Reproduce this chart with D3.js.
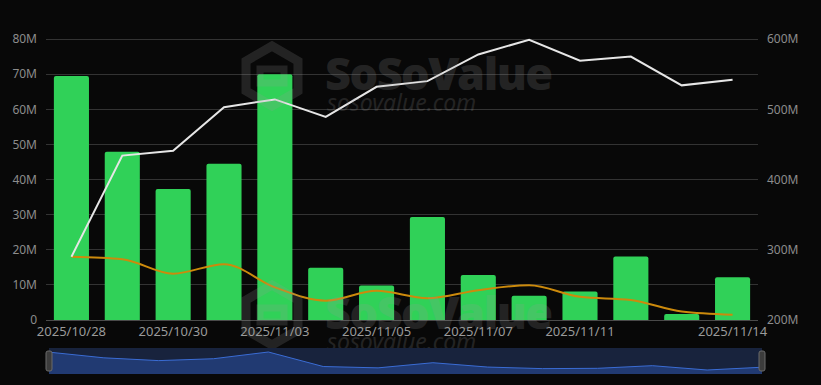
<!DOCTYPE html>
<html><head><meta charset="utf-8">
<script src="https://cdn.jsdelivr.net/npm/d3@7"></script>
<style>
html,body{margin:0;padding:0;background:#080808;}
svg{display:block;}
text{font-family:"Noto Sans","Open Sans",sans-serif;}
</style></head>
<body>
<svg id="c" width="821" height="385"></svg>
<script>
const categories = ["2025/10/28","2025/10/29","2025/10/30","2025/10/31","2025/11/03","2025/11/04","2025/11/05","2025/11/06","2025/11/07","2025/11/10","2025/11/11","2025/11/12","2025/11/13","2025/11/14"];
const barValues = [69.5,47.9,37.3,44.5,70.0,14.9,9.8,29.3,12.8,6.9,8.1,18.1,1.7,12.2];
const whiteLine = [290,434,441,503,514,489,532,540,578,599,569,575,534,542];
const orangeLine = [18.0,17.3,13.2,15.9,9.3,5.5,8.3,6.2,8.5,9.9,6.6,5.7,2.4,1.5];
const shownLabels = ["2025/10/28","2025/10/30","2025/11/03","2025/11/05","2025/11/07","2025/11/11","2025/11/14"];
const leftTicks = [0,10,20,30,40,50,60,70,80];
const rightTicks = [200,300,400,500,600];

const svg = d3.select("#c");
svg.append("rect").attr("width",821).attr("height",385).attr("fill","#080808");

const x0 = 46, x1 = 758, yTop = 39, yBot = 320;
const x = d3.scaleBand().domain(categories).range([x0,x1]).paddingInner(0.31).paddingOuter(0.155);
const xc = d => x(d) + x.bandwidth()/2;
const yL = d3.scaleLinear().domain([0,80]).range([yBot,yTop]);
const yR = d3.scaleLinear().domain([200,600]).range([yBot,yTop]);

// grid
svg.append("g").selectAll("line").data(leftTicks).join("line")
  .attr("x1",x0).attr("x2",x1).attr("y1",d=>yL(d)).attr("y2",d=>yL(d))
  .attr("stroke",d=>d===0?"#4a4a4a":"#333").attr("stroke-width",1)
  .attr("shape-rendering","crispEdges");

// left axis
const gl = svg.append("g").attr("transform",`translate(37,0)`)
  .call(d3.axisLeft(yL).tickValues(leftTicks).tickSize(0).tickPadding(0).tickFormat(d=>d===0?"0":d+"M"));
gl.select(".domain").remove();
gl.selectAll("text").attr("fill","#8c8c8c").attr("font-size",12);

// right axis
const gr = svg.append("g").attr("transform",`translate(767,0)`)
  .call(d3.axisRight(yR).tickValues(rightTicks).tickSize(0).tickPadding(0).tickFormat(d=>d+"M"));
gr.select(".domain").remove();
gr.selectAll("text").attr("fill","#8c8c8c").attr("font-size",12);

// bottom axis
const gb = svg.append("g").attr("transform",`translate(0,${yBot+7})`)
  .call(d3.axisBottom(x).tickValues(shownLabels).tickSize(0).tickPadding(0));
gb.select(".domain").remove();
gb.selectAll("text").attr("fill","#9a9a9a").attr("font-size",13);

// bars
svg.append("g").selectAll("path").data(categories).join("path")
  .attr("fill","#30d158")
  .attr("d",(d,i)=>{
    const bx = x(d), bw = x.bandwidth(), by = yL(barValues[i]), h = yBot-by, r = Math.min(2,h/2);
    return `M${bx},${yBot}V${by+r}Q${bx},${by} ${bx+r},${by}H${bx+bw-r}Q${bx+bw},${by} ${bx+bw},${by+r}V${yBot}Z`;
  });

// lines
svg.append("path").datum(orangeLine)
  .attr("fill","none").attr("stroke","#cc8a0c").attr("stroke-width",2)
  .attr("d",d3.line().x((d,i)=>xc(categories[i])).y(d=>yL(d)).curve(d3.curveMonotoneX));
svg.append("path").datum(whiteLine)
  .attr("fill","none").attr("stroke","#e6e6e6").attr("stroke-width",2)
  .attr("d",d3.line().x((d,i)=>xc(categories[i])).y(d=>yR(d)));

// watermarks
function watermark(tx,ty){
  const g = svg.append("g").attr("transform",`translate(${tx},${ty})`).attr("opacity",0.19);
  const hex = d3.range(6).map(k=>{const a=Math.PI/3*k+Math.PI/6;return [32+30*Math.cos(a),33+30*Math.sin(a)];});
  g.append("path").attr("d","M"+hex.join("L")+"Z").attr("fill","none").attr("stroke","#9a9a9a").attr("stroke-width",9);
  g.append("path").attr("d","M20,26 L44,26 L44,40 L20,40 Z").attr("fill","none").attr("stroke","#9a9a9a").attr("stroke-width",7);
  g.append("text").attr("x",85).attr("y",47).attr("font-size",45).attr("font-weight",900)
    .attr("fill","#9a9a9a").attr("font-family","'Open Sans',sans-serif").attr("letter-spacing",-1.5).text("SoSoValue");
  g.append("text").attr("x",87).attr("y",68).attr("font-size",23).attr("font-style","italic")
    .attr("fill","#9a9a9a").text("sosovalue.com");
}
watermark(240,43);
watermark(240,282);

// data zoom
const zx0 = 49, zx1 = 762, zy0 = 348, zy1 = 374;
svg.append("rect").attr("x",zx0).attr("y",zy0).attr("width",zx1-zx0).attr("height",zy1-zy0).attr("fill","#18233d");
const zx = d3.scalePoint().domain(categories).range([zx0,zx1]);
const zy = d3.scaleLinear().domain([d3.min(barValues),d3.max(barValues)]).range([370,352]);
svg.append("path").datum(barValues).attr("fill","#213a72")
  .attr("d",d3.area().x((d,i)=>zx(categories[i])).y0(zy1).y1(d=>zy(d)));
svg.append("path").datum(barValues).attr("fill","none").attr("stroke","#3a6cd4").attr("stroke-width",1)
  .attr("d",d3.line().x((d,i)=>zx(categories[i])).y(d=>zy(d)));
[zx0,zx1].forEach(hx=>{
  svg.append("rect").attr("x",hx-3).attr("y",351).attr("width",6).attr("height",20).attr("rx",2)
    .attr("fill","#3c3c3c").attr("stroke","#6a6a6a").attr("stroke-width",1);
});
</script>
</body></html>
